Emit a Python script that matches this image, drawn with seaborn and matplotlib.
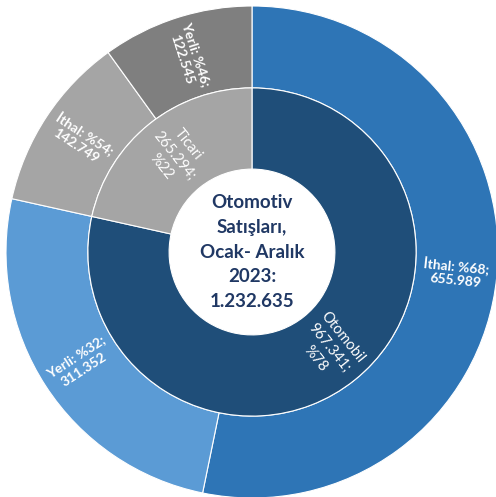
import numpy as np
import matplotlib.pyplot as plt
import seaborn as sns

sns.set_theme(style="white")
plt.rcParams["font.family"] = ["Lato", "DejaVu Sans"]

# data
inner_labels = ["Otomobil", "Ticari"]
inner_values = [967341, 265294]
inner_colors = ["#1F4E79", "#A5A5A5"]

outer_labels = ["İthal", "Yerli", "İthal", "Yerli"]
outer_values = [655989, 311352, 142749, 122545]
outer_parent = [0, 0, 1, 1]
outer_colors = ["#2E75B6", "#5B9BD5", "#A5A5A5", "#7F7F7F"]

total = sum(inner_values)
center_text = "Otomotiv\nSatışları,\nOcak- Aralık\n2023:\n1.232.635"


def fmt(v):
    return f"{v:,}".replace(",", ".")


R_OUT = 1.0
R_MID = 0.667
R_HOLE = 0.337

fig = plt.figure(figsize=(4.96, 4.97), dpi=100)
ax = fig.add_axes([0, 0, 1, 1])

outer_wedges, _ = ax.pie(outer_values, radius=R_OUT, startangle=90, counterclock=False,
                         colors=outer_colors,
                         wedgeprops=dict(width=R_OUT - R_MID, edgecolor="white", linewidth=0.8))
inner_wedges, _ = ax.pie(inner_values, radius=R_MID, startangle=90, counterclock=False,
                         colors=inner_colors,
                         wedgeprops=dict(width=R_MID - R_HOLE, edgecolor="white", linewidth=0.8))


def radial_label(w, r, text, size, weight):
    ang = (w.theta1 + w.theta2) / 2
    rot = ang
    a = ang % 360
    if 90 < a < 270:
        rot = ang - 180
    x = r * np.cos(np.radians(ang))
    y = r * np.sin(np.radians(ang))
    ax.text(x, y, text, rotation=rot, rotation_mode="anchor", ha="center", va="center",
            color="white", fontsize=size, fontweight=weight, linespacing=1.3)


for w, lab, v in zip(inner_wedges, inner_labels, inner_values):
    pct = round(v / total * 100)
    radial_label(w, (R_MID + R_HOLE) / 2, f"{lab}\n{fmt(v)};\n%{pct}", 10.5, "normal")

for w, lab, v, p in zip(outer_wedges, outer_labels, outer_values, outer_parent):
    pct = round(v / inner_values[p] * 100)
    radial_label(w, (R_OUT + R_MID) / 2, f"{lab}: %{pct};\n{fmt(v)}", 10, "bold")

ax.text(0, 0, center_text, ha="center", va="center", color="#203864",
        fontsize=13.5, fontweight="bold", linespacing=1.55)

# centre at (252, 252) px, radius 246 px
ax.set_xlim(-252 / 246, (496 - 252) / 246)
ax.set_ylim(-(497 - 252) / 246, 252 / 246)
ax.set_aspect("auto")
ax.axis("off")

fig.savefig("out.png", dpi=100, facecolor="white")
